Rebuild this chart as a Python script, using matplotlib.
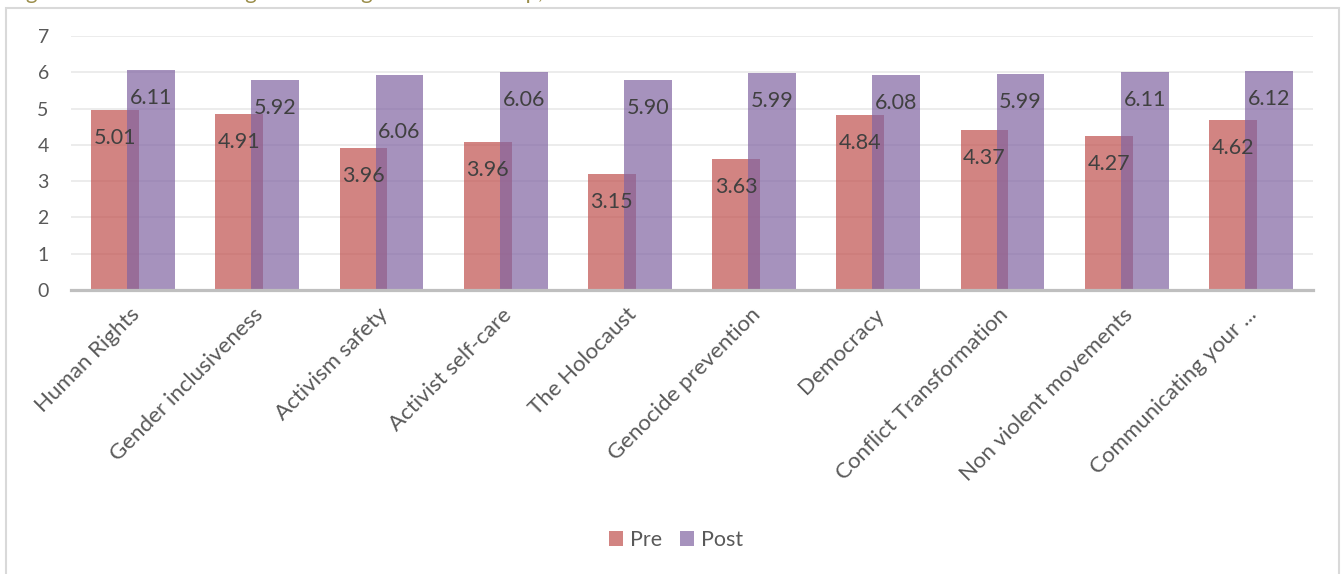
import matplotlib
matplotlib.use("Agg")
import matplotlib.pyplot as plt
from matplotlib.patches import Rectangle
import matplotlib.transforms as mtransforms
import numpy as np

plt.rcParams['font.family'] = ['Lato', 'DejaVu Sans']

categories = ["Human Rights", "Gender inclusiveness", "Activism safety",
              "Activist self-care", "The Holocaust", "Genocide prevention",
              "Democracy", "Conflict Transformation", "Non violent movements",
              "Communicating your ..."]
# bar heights as drawn
pre_bars = [4.97, 4.86, 3.92, 4.08, 3.20, 3.61, 4.82, 4.40, 4.24, 4.68]
post_bars = [6.05, 5.80, 5.92, 6.00, 5.79, 5.98, 5.92, 5.94, 6.01, 6.03]
# data labels as printed
pre_labels = ["5.01", "4.91", "3.96", "3.96", "3.15", "3.63", "4.84", "4.37", "4.27", "4.62"]
post_labels = ["6.11", "5.92", "6.06", "6.06", "5.90", "5.99", "6.08", "5.99", "6.11", "6.12"]
series = ["Pre", "Post"]
yticks = [0, 1, 2, 3, 4, 5, 6, 7]

W, H = 1344, 574
fig = plt.figure(figsize=(W / 100, H / 100), dpi=100)
fig.patch.set_facecolor('white')

# chart frame (bottom edge lies outside the picture)
fig.add_artist(Rectangle((6 / W, -0.1), (1339 - 6) / W, 1.1 - 8 / H,
                         transform=fig.transFigure, fill=False,
                         edgecolor='#d9d9d9', linewidth=1.5))
# caption above the chart, cut off by the top edge (only descenders visible)
fig.text(8 / W, 1.0 + 1 / H, "Figure 4: Mean knowledge in training at the workshop,",
         fontsize=16, color='#9b8e4b', ha='left', va='baseline')

left, right = 71 / W, 1313 / W
bottom, top = (H - 290) / H, (H - 36) / H
ax = fig.add_axes([left, bottom, right - left, top - bottom])

x = np.arange(len(categories))
off, bw = 0.145, 0.386
pre_col = '#c0504d'
post_col = '#8064a2'
b1 = ax.bar(x - off, pre_bars, width=bw, color=pre_col, alpha=0.7, zorder=2, label=series[0], linewidth=0)
b2 = ax.bar(x + off, post_bars, width=bw, color=post_col, alpha=0.7, zorder=3, label=series[1], linewidth=0)

label_drop = {("Post", 2): 57}
for i in range(len(categories)):
    for name, bars, labs, xo in (("Pre", pre_bars, pre_labels, -off), ("Post", post_bars, post_labels, off)):
        d = label_drop.get((name, i), 28)
        ax.annotate(labs[i], (x[i] + xo, bars[i]), xytext=(0, -d), textcoords='offset pixels',
                    ha='center', va='center', fontsize=15.5, color='#404040', zorder=5)

ax.set_xlim(-0.5, len(categories) - 0.5)
ax.set_ylim(0, 7)
ax.set_yticks(yticks)
ax.set_yticklabels([str(t) for t in yticks], fontsize=14, color='#595959')
ax.tick_params(axis='y', length=0, pad=16)
ax.tick_params(axis='x', length=0, pad=12)
ax.set_xticks(x)
ax.set_xticklabels(categories, rotation=45, ha='right', va='center',
                   rotation_mode='anchor', fontsize=16, color='#595959')
shift = mtransforms.ScaledTranslation(3 / 100, -5 / 100, fig.dpi_scale_trans)
for lbl in ax.get_xticklabels():
    lbl.set_transform(lbl.get_transform() + shift)

ax.grid(axis='y', color='#ebebeb', linewidth=1.3, zorder=0)
ax.set_axisbelow(True)
for s in ('top', 'right', 'left'):
    ax.spines[s].set_visible(False)
ax.spines['bottom'].set_color('#bfbfbf')
ax.spines['bottom'].set_linewidth(2.3)
ax.spines['bottom'].set_zorder(4)

leg = fig.legend(handles=[b1, b2], labels=series, loc='center', bbox_to_anchor=(676 / W, (H - 540) / H),
                 ncol=2, frameon=False, fontsize=15.5, handlelength=0.65, handleheight=0.65,
                 handletextpad=0.35, columnspacing=0.8, labelcolor='#595959')

fig.savefig("out.png", dpi=100, facecolor='white')
